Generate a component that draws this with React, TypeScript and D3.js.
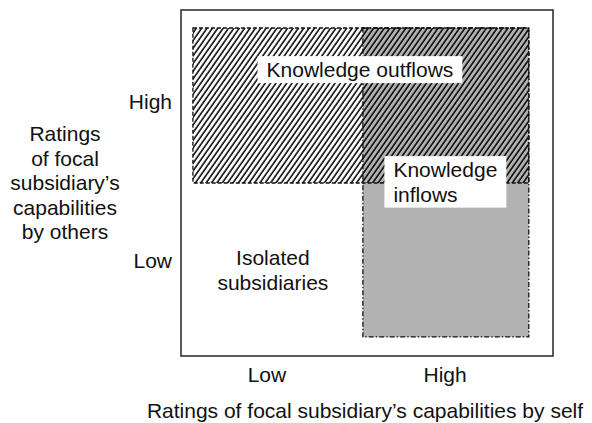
import { useEffect, useRef } from "react";
import * as d3 from "d3";

// ratings on a 0-100 scale, both axes
const xCategories = ["Low", "High"];
const xCategoryPos = [23.1, 71];
const yCategories = ["High", "Low"];
const yCategoryPos = [73.4, 27.4];

const xTitle = "Ratings of focal subsidiary’s capabilities by self";
const yTitleLines = ["Ratings", "of focal", "subsidiary’s", "capabilities", "by others"];

// regions of the plane (x0..x1 self rating, y0..y1 others rating)
const regionNames = ["inflows", "outflows"];
const regionX0 = [48.9, 3.2];
const regionX1 = [93.5, 93.5];
const regionY0 = [5.5, 50];
const regionY1 = [94.8, 94.8];

// labels: text lines, anchor x, first baseline y (data units)
const labelLines = [["Knowledge outflows"], ["Knowledge", "inflows"], ["Isolated", "subsidiaries"]];
const labelX = [48.1, 57.1, 24.7];
const labelY = [80.6, 51.7, 26.3];
const labelAnchor = ["middle", "start", "middle"];
const labelBoxed = [true, true, false];

const App = () => {
  const ref = useRef<SVGSVGElement>(null);

  useEffect(() => {
    document.body.style.margin = "0";
    const svg = d3.select(ref.current);
    svg.selectAll("*").remove();

    const font = "'Liberation Sans', Arial, Helvetica, sans-serif";
    const fs = 21;
    const lineH = 24.5;

    const x = d3.scaleLinear().domain([0, 100]).range([181, 553]);
    const y = d3.scaleLinear().domain([0, 100]).range([356, 10]);

    const defs = svg.append("defs");
    const pat = defs
      .append("pattern")
      .attr("id", "hatch")
      .attr("patternUnits", "userSpaceOnUse")
      .attr("width", 4.4)
      .attr("height", 4.4)
      .attr("patternTransform", "rotate(35)");
    pat
      .append("line")
      .attr("x1", 1)
      .attr("x2", 1)
      .attr("y1", -1)
      .attr("y2", 5.4)
      .attr("stroke", "#000")
      .attr("stroke-width", 1.5);

    // frame
    svg
      .append("rect")
      .attr("x", x(0))
      .attr("y", y(100))
      .attr("width", x(100) - x(0))
      .attr("height", y(0) - y(100))
      .attr("fill", "none")
      .attr("stroke", "#333")
      .attr("stroke-width", 1.6);

    // inflows: gray, dash-dot border
    const i = regionNames.indexOf("inflows");
    svg
      .append("rect")
      .attr("x", x(regionX0[i]))
      .attr("y", y(regionY1[i]))
      .attr("width", x(regionX1[i]) - x(regionX0[i]))
      .attr("height", y(regionY0[i]) - y(regionY1[i]))
      .attr("fill", "#b3b3b3")
      .attr("stroke", "#111")
      .attr("stroke-width", 1.3)
      .attr("stroke-dasharray", "5 2 1.5 2");

    // outflows: hatched, dashed border
    const o = regionNames.indexOf("outflows");
    svg
      .append("rect")
      .attr("x", x(regionX0[o]))
      .attr("y", y(regionY1[o]))
      .attr("width", x(regionX1[o]) - x(regionX0[o]))
      .attr("height", y(regionY0[o]) - y(regionY1[o]))
      .attr("fill", "url(#hatch)")
      .attr("stroke", "#111")
      .attr("stroke-width", 1.3)
      .attr("stroke-dasharray", "4 2");

    // region labels
    labelLines.forEach((lines, k) => {
      const g = svg.append("g");
      const box = g.append("rect").attr("fill", "#fff");
      const t = g
        .append("text")
        .attr("font-family", font)
        .attr("font-size", fs)
        .attr("fill", "#111")
        .attr("text-anchor", labelAnchor[k]);
      lines.forEach((ln, j) => {
        t.append("tspan")
          .attr("x", x(labelX[k]))
          .attr("y", y(labelY[k]) + j * lineH)
          .text(ln);
      });
      if (labelBoxed[k]) {
        const bb = (t.node() as SVGTextElement).getBBox();
        box
          .attr("x", bb.x - 9)
          .attr("y", bb.y - 2)
          .attr("width", bb.width + 18)
          .attr("height", bb.height + 4);
      } else {
        box.remove();
      }
    });

    // category labels
    svg
      .selectAll(".xcat")
      .data(xCategories)
      .enter()
      .append("text")
      .attr("x", (_, k) => x(xCategoryPos[k]))
      .attr("y", 382)
      .attr("text-anchor", "middle")
      .attr("font-family", font)
      .attr("font-size", fs)
      .attr("fill", "#111")
      .text((d) => d);

    svg
      .selectAll(".ycat")
      .data(yCategories)
      .enter()
      .append("text")
      .attr("x", 172)
      .attr("y", (_, k) => y(yCategoryPos[k]) + 7)
      .attr("text-anchor", "end")
      .attr("font-family", font)
      .attr("font-size", fs)
      .attr("fill", "#111")
      .text((d) => d);

    // axis titles
    svg
      .append("text")
      .attr("x", 365)
      .attr("y", 418)
      .attr("text-anchor", "middle")
      .attr("font-family", font)
      .attr("font-size", fs)
      .attr("fill", "#111")
      .text(xTitle);

    const yt = svg
      .append("text")
      .attr("text-anchor", "middle")
      .attr("font-family", font)
      .attr("font-size", fs)
      .attr("fill", "#111");
    yTitleLines.forEach((ln, j) => {
      yt.append("tspan").attr("x", 65).attr("y", 141 + j * lineH).text(ln);
    });
  }, []);

  return <svg ref={ref} width={592} height={423} style={{ display: "block" }} />;
};

export default App;
